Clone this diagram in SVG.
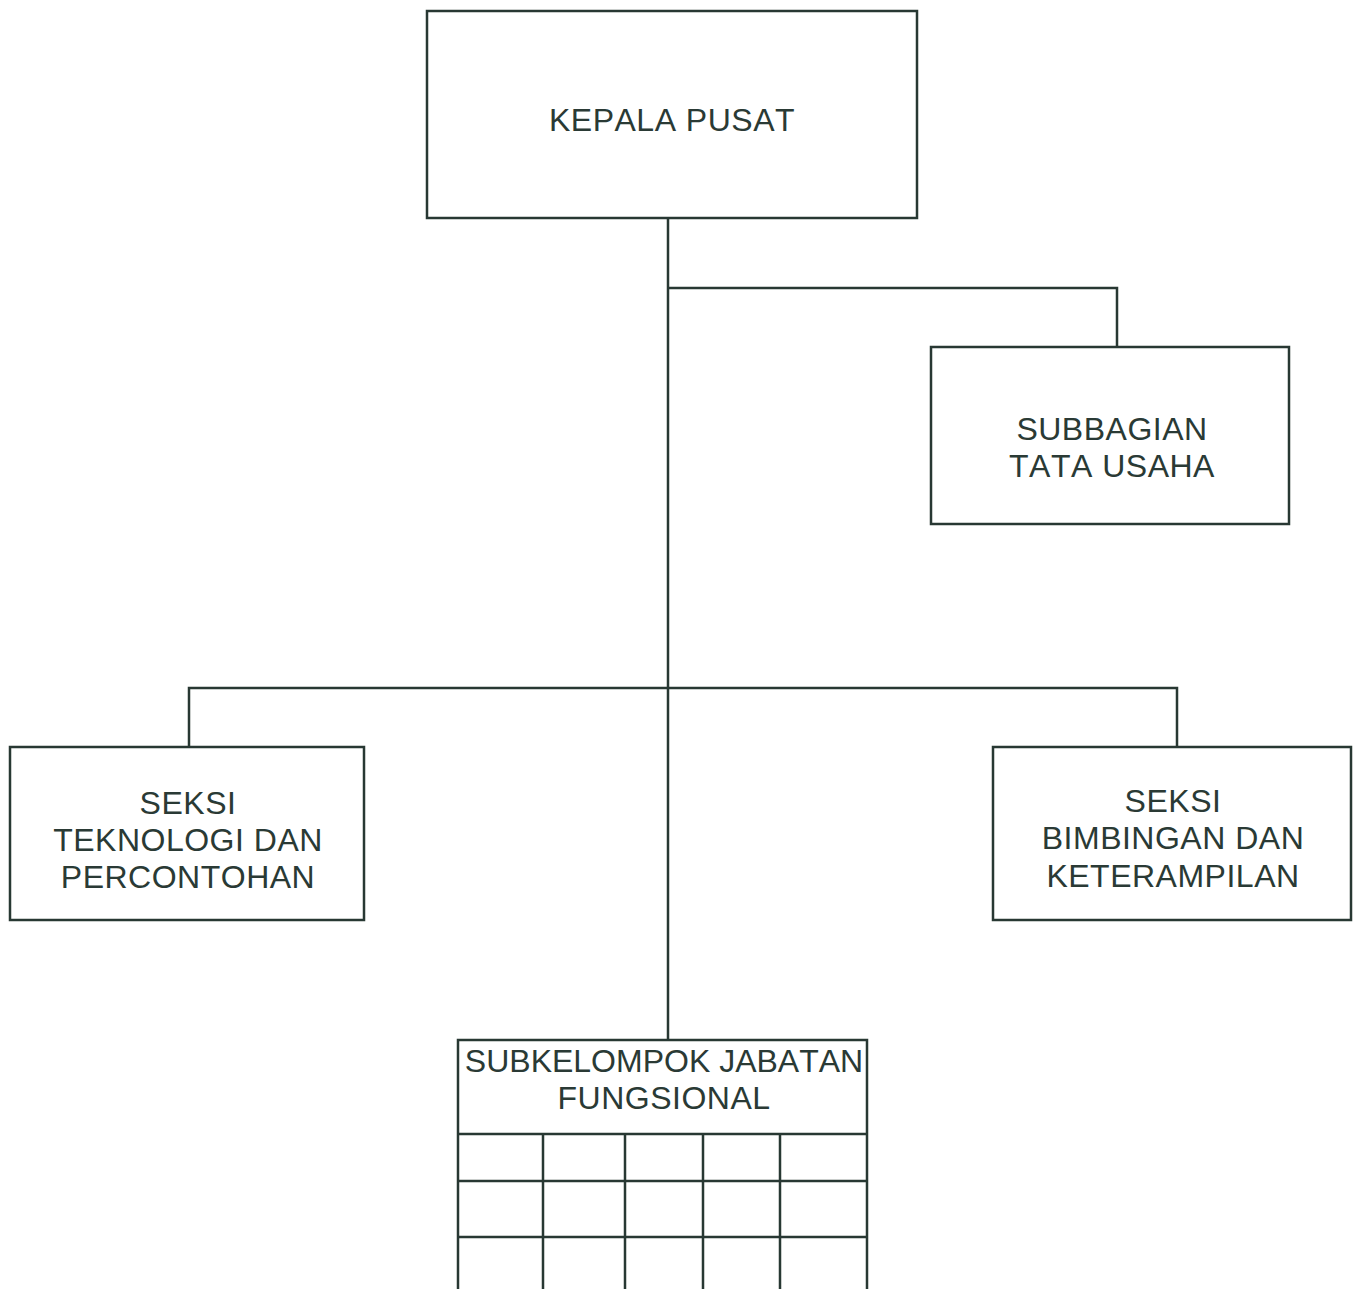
<svg xmlns="http://www.w3.org/2000/svg" width="1354" height="1289" viewBox="0 0 1354 1289">
<style>
.box{fill:none;stroke:#283833;stroke-width:2.5}
.ln{fill:none;stroke:#283833;stroke-width:2.5}
.t{font-family:"Liberation Sans",Arial,sans-serif;font-size:32px;fill:#2a3a35;text-anchor:middle;font-kerning:none;letter-spacing:0.5px}
</style>
<rect width="1354" height="1289" fill="#ffffff"/>
<g id="connectors">
<path class="ln" d="M668 218 V1040"/>
<path class="ln" d="M668 288 H1117 V347"/>
<path class="ln" d="M189 747 V688 H1177 V747"/>
</g>
<g id="kepala-pusat">
<rect class="box" x="427" y="11" width="490" height="207"/>
<text class="t" x="672" y="131">KEPALA PUSAT</text>
</g>
<g id="subbagian-tata-usaha">
<rect class="box" x="931" y="347" width="358" height="177"/>
<text class="t" x="1112" y="440">SUBBAGIAN</text>
<text class="t" x="1112" y="477">TATA USAHA</text>
</g>
<g id="seksi-teknologi">
<rect class="box" x="10" y="747" width="354" height="173"/>
<text class="t" x="188" y="814">SEKSI</text>
<text class="t" x="188" y="851">TEKNOLOGI DAN</text>
<text class="t" x="188" y="888">PERCONTOHAN</text>
</g>
<g id="seksi-bimbingan">
<rect class="box" x="993" y="747" width="358" height="173"/>
<text class="t" x="1173" y="812">SEKSI</text>
<text class="t" x="1173" y="849">BIMBINGAN DAN</text>
<text class="t" x="1173" y="887">KETERAMPILAN</text>
</g>
<g id="subkelompok-jabatan-fungsional">
<path class="box" d="M458 1292 V1040 H867 V1292"/>
<text class="t" x="664" y="1072" style="letter-spacing:0">SUBKELOMPOK JABATAN</text>
<text class="t" x="664" y="1109">FUNGSIONAL</text>
<path class="ln" d="M458 1134 H867 M458 1181 H867 M458 1237 H867 M543 1134 V1292 M625 1134 V1292 M703 1134 V1292 M780 1134 V1292"/>
</g>
</svg>
